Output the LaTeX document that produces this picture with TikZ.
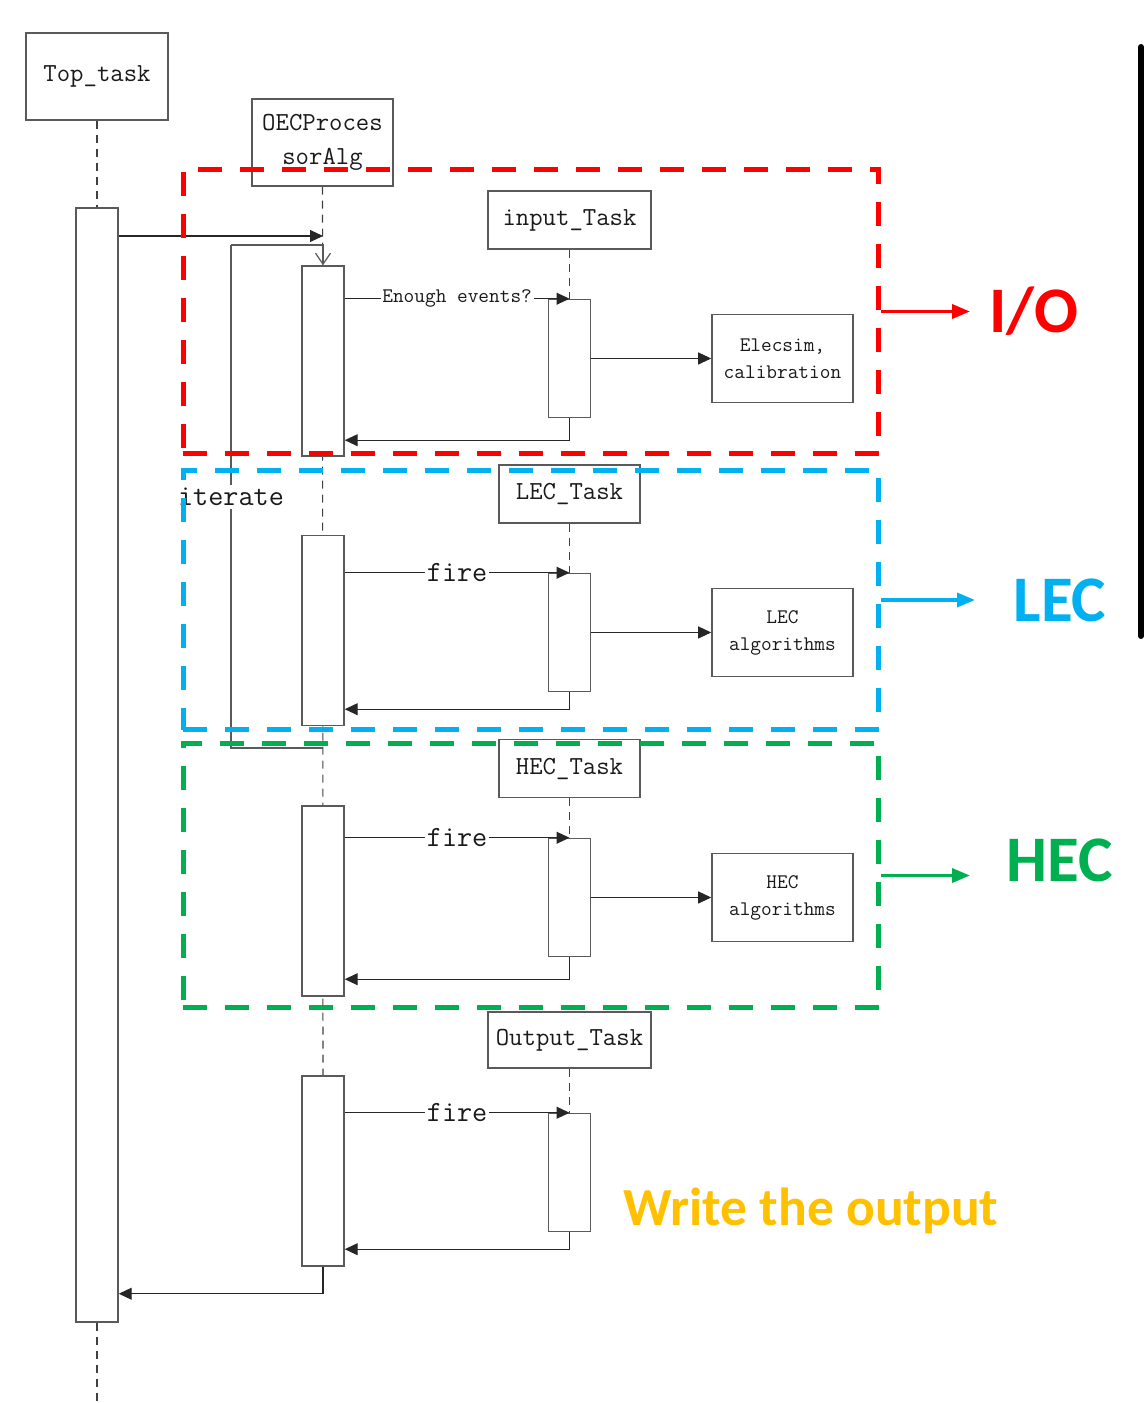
\documentclass[tikz,border=0pt]{standalone}
\usepackage{fontspec}
\usepackage{xcolor}
\usepackage{tikz}
\usetikzlibrary{arrows.meta, positioning, calc, backgrounds}
\newfontfamily\tagfont{Carlito}
\definecolor{ioRed}{HTML}{FF0000}
\definecolor{lecBlue}{HTML}{00B0F0}
\definecolor{hecGreen}{HTML}{00B050}
\definecolor{outGold}{HTML}{FFC000}
\definecolor{edgeGray}{HTML}{5A5A5A}
\definecolor{inkBlack}{HTML}{1A1A1A}
\tikzset{
  % Sequence diagram styles
  actor/.style={rectangle, draw=edgeGray, line width=0.85pt, minimum width=#1, minimum height=1.16cm, text centered, inner sep=0pt, text=inkBlack, font=\fontsize{14.8}{19}\selectfont\ttfamily},
  actor/.default={2.82cm},
  bar/.style={rectangle, draw=edgeGray, line width=0.85pt, fill=white, minimum width=0.84cm, minimum height=#1, inner sep=0pt},
  algo/.style={rectangle, draw=edgeGray, line width=0.85pt, minimum width=2.82cm, minimum height=1.76cm, align=center, inner sep=0pt, text=inkBlack, font=\fontsize{11.8}{15.3}\selectfont\ttfamily},
  lifeline/.style={draw=black!75, line width=0.6pt, dash pattern=on 0.16cm off 0.12cm},
  msg/.style={-{Triangle[length=0.26cm, width=0.24cm]}, draw=black!85, line width=0.6pt},
  loopline/.style={draw=edgeGray, line width=0.7pt},
  smalllabel/.style={midway, fill=white, inner sep=1pt, text=inkBlack, font=\fontsize{11.8}{14}\selectfont\ttfamily},
  firelabel/.style={midway, fill=white, inner sep=1pt, text=inkBlack, font=\fontsize{16.7}{19}\selectfont\ttfamily},
  % Region styles
  region/.style={rectangle, draw=#1, line width=0.1cm, dash pattern=on 0.48cm off 0.36cm, minimum width=13.92cm, inner sep=0pt},
  sidearrow/.style={-{Triangle[length=0.36cm, width=0.28cm]}, draw=#1, line width=0.07cm},
  tag/.style={inner sep=0pt, text=#1, font=\fontsize{37}{40}\selectfont\tagfont\bfseries},
}
\begin{document}
\begin{tikzpicture}[x=0.02cm, y=-0.02cm]
  \useasboundingbox (0,0) rectangle (1145,1403);

  % Lifeline heads
  \node[actor=2.84cm, minimum height=1.74cm] (top) at (97,76.5) {Top\_task};
  \node[actor=2.82cm, minimum height=1.74cm, align=center] (oec) at (322.5,142.5) {OECProces\\sorAlg};

  % Activation bars
  \node[bar=22.28cm] (topbar) at (97,765) {};
  \node[bar=3.8cm] (oecbar1) at (323,361) {};
  \node[bar=3.8cm] (oecbar2) at (323,630.5) {};
  \node[bar=3.8cm] (oecbar3) at (323,901) {};
  \node[bar=3.8cm] (oecbar4) at (323,1171) {};

  % Call from Top_task
  \coordinate (callEnd) at (323,236);
  \draw[msg] (topbar.east |- callEnd) -- (callEnd);

  % Iterate loop
  \coordinate (loopTop) at (231,245);
  \coordinate (loopBot) at (231,748);
  \draw[loopline, -{Straight Barb[length=0.22cm, width=0.3cm]}] (loopTop) -- (loopTop -| oecbar1.north) -- (oecbar1.north);
  \draw[loopline] (loopTop) -- (loopBot) -- (loopBot -| oecbar1.north);
  \node[fill=white, inner sep=2pt, text=inkBlack, font=\fontsize{16.7}{19}\selectfont\ttfamily] (iterlabel) at (231,497) {iterate};

  % Input task
  \node[actor=3.26cm] (input) at (569.5,220) {input\_Task};
  \node[bar=2.36cm, below=0.98cm of input] (inbar) {};
  \node[algo, right=2.4cm of inbar] (elec) {Elecsim,\\calibration};
  \draw[msg] (oecbar1.east |- inbar.north) -- node[smalllabel] {Enough events?} (inbar.north);
  \draw[msg] (inbar.east) -- (elec.west);
  \draw[msg] (inbar.south) |- ($(oecbar1.east |- inbar.south)+(0,22)$);

  % LEC task
  \node[actor] (lectask) at (569.5,494) {LEC\_Task};
  \node[bar=2.36cm, below=0.98cm of lectask] (lecbar) {};
  \node[algo, right=2.4cm of lecbar] (lecalg) {LEC\\algorithms};
  \draw[msg] (oecbar2.east |- lecbar.north) -- node[firelabel] {fire} (lecbar.north);
  \draw[msg] (lecbar.east) -- (lecalg.west);
  \draw[msg] (lecbar.south) |- ($(oecbar2.east |- lecbar.south)+(0,17)$);

  % HEC task
  \node[actor] (hectask) at (569.5,768.5) {HEC\_Task};
  \node[bar=2.36cm, below=0.79cm of hectask] (hecbar) {};
  \node[algo, right=2.4cm of hecbar] (hecalg) {HEC\\algorithms};
  \draw[msg] (oecbar3.east |- hecbar.north) -- node[firelabel] {fire} (hecbar.north);
  \draw[msg] (hecbar.east) -- (hecalg.west);
  \draw[msg] (hecbar.south) |- ($(oecbar3.east |- hecbar.south)+(0,22)$);

  % Output task
  \node[actor=3.26cm, minimum height=1.12cm] (outtask) at (569.5,1040) {Output\_Task};
  \node[bar=2.36cm, below=0.88cm of outtask] (outbar) {};
  \draw[msg] (oecbar4.east |- outbar.north) -- node[firelabel] {fire} (outbar.north);
  \draw[msg] (outbar.south) |- ($(oecbar4.east |- outbar.south)+(0,17)$);

  % Return to Top_task
  \draw[msg] (oecbar4.south) |- ($(topbar.east |- oecbar4.south)+(0,27)$);

  % Lifelines
  \coordinate (topEnd) at (97,1403);
  \begin{scope}[on background layer]
    \draw[lifeline] (top.south) -- (topbar.north);
    \draw[lifeline] (topbar.south) -- (topEnd);
    \draw[lifeline] (oec.south) -- (oecbar4.north);
    \draw[lifeline] (input.south) -- (inbar.north);
    \draw[lifeline] (lectask.south) -- (lecbar.north);
    \draw[lifeline] (hectask.south) -- (hecbar.north);
    \draw[lifeline] (outtask.south) -- (outbar.north);
  \end{scope}

  % Regions
  \node[region=ioRed, minimum height=5.7cm] (io) at (531,311.5) {};
  \node[region=lecBlue, minimum height=5.2cm] (lec) at (531,600) {};
  \node[region=hecGreen, minimum height=5.3cm] (hec) at (531,875.5) {};

  % Region tags
  \coordinate (ioTip) at (970,311.5);
  \coordinate (lecTip) at (975,600);
  \coordinate (hecTip) at (970,875.5);
  \draw[sidearrow=ioRed] (io.east) -- (ioTip);
  \draw[sidearrow=lecBlue] (lec.east) -- (lecTip);
  \draw[sidearrow=hecGreen] (hec.east) -- (hecTip);
  \node[tag=ioRed] (iotag) at (1034,311) {I/O};
  \node[tag=lecBlue] (lectag) at (1060,600) {LEC};
  \node[tag=hecGreen] (hectag) at (1060,860) {HEC};
  \node[tag=outGold, font=\fontsize{30.5}{34}\selectfont\tagfont\bfseries] (outtag) at (811,1211) {Write the output};

  % Right edge rule
  \draw[line width=0.12cm, line cap=round] (1141,47) -- (1141,636);
\end{tikzpicture}
\end{document}
